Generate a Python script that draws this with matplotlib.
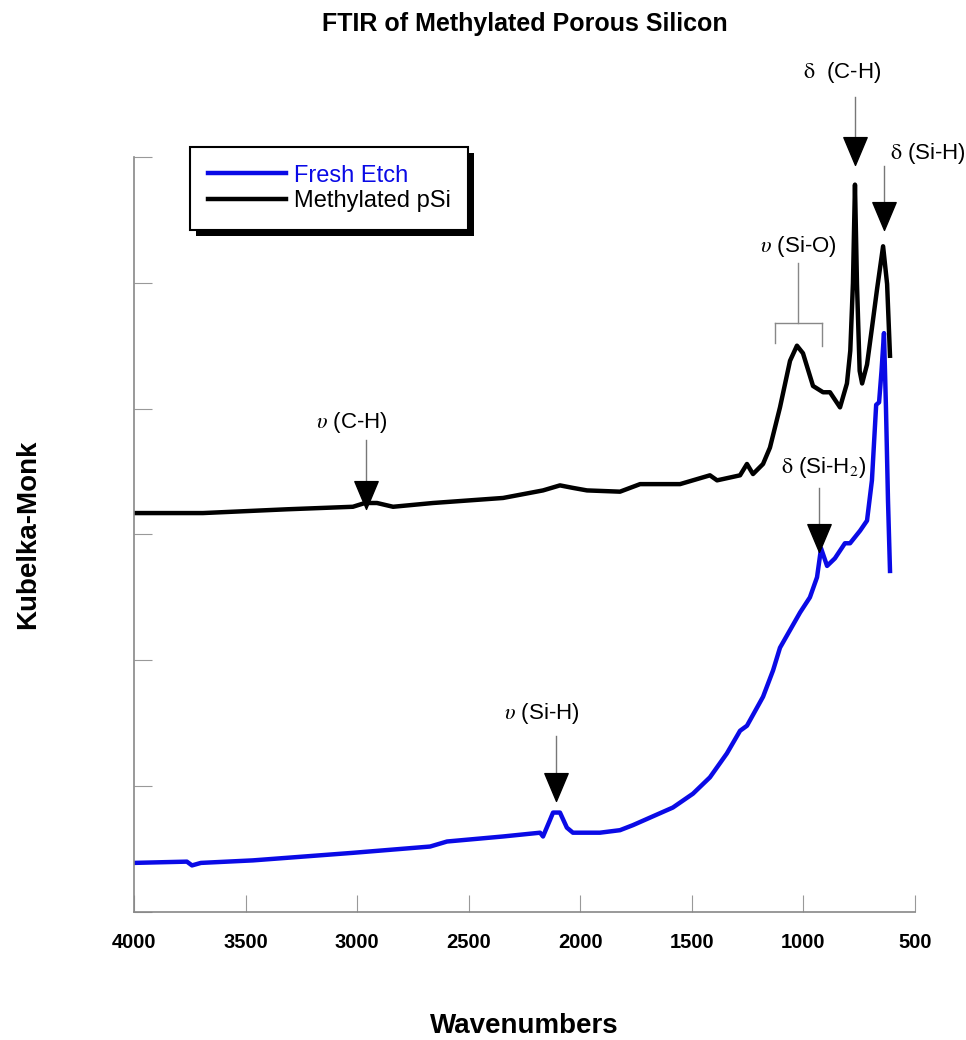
import matplotlib
matplotlib.use('Agg')
import matplotlib.pyplot as plt
from matplotlib.path import Path
from matplotlib.patches import Rectangle
from matplotlib import font_manager

# --- data (wavenumber, Kubelka-Monk in tick units) ---
fresh_wn = [4000, 3763, 3740, 3700, 3467, 3019, 2673, 2597, 2346, 2180, 2167, 2136, 2122,
            2091, 2060, 2033, 1970, 1912, 1822, 1764, 1585, 1495, 1419, 1343, 1284, 1253,
            1181, 1136, 1105, 1060, 1015, 971, 939, 921, 894, 859, 814, 791, 746, 715,
            693, 674, 661, 650, 639, 630, 621, 612]
fresh_km = [0.39, 0.40, 0.37, 0.39, 0.41, 0.47, 0.52, 0.56, 0.60, 0.63, 0.60, 0.73, 0.79,
            0.79, 0.67, 0.63, 0.63, 0.63, 0.65, 0.69, 0.83, 0.94, 1.07, 1.26, 1.44, 1.48,
            1.71, 1.92, 2.10, 2.24, 2.38, 2.50, 2.66, 2.89, 2.75, 2.81, 2.93, 2.93, 3.03,
            3.11, 3.43, 4.03, 4.05, 4.30, 4.60, 4.00, 3.27, 2.71]

meth_wn = [4000, 3691, 3314, 3019, 2965, 2911, 2839, 2660, 2346, 2167, 2091, 2033, 1970,
           1822, 1732, 1553, 1419, 1387, 1284, 1253, 1226, 1181, 1150, 1105, 1060, 1029,
           1002, 957, 912, 881, 836, 805, 790, 778, 769, 760, 748, 737, 715, 693, 670,
           643, 625, 612]
meth_km = [3.17, 3.17, 3.20, 3.22, 3.25, 3.25, 3.22, 3.25, 3.29, 3.35, 3.39, 3.37, 3.35,
           3.34, 3.40, 3.40, 3.47, 3.43, 3.47, 3.56, 3.48, 3.56, 3.69, 4.01, 4.38, 4.50,
           4.44, 4.18, 4.13, 4.13, 4.01, 4.20, 4.46, 5.00, 5.78, 4.99, 4.30, 4.20, 4.35,
           4.64, 4.95, 5.29, 4.99, 4.42]

labels = ['Fresh Etch', 'Methylated pSi']
x_ticks = [4000, 3500, 3000, 2500, 2000, 1500, 1000, 500]

# arrow annotations: label, wavenumber of tip, tip y, line top y, text x, text y
arrows = [
    (r'$\mathrm{\delta}$  (C-H)', 768, 5.97, 6.48, 827, 6.67),
    (r'$\mathrm{\delta}$ (Si-H)', 638, 5.45, 5.93, 444, 6.03),
    (r'$\upsilon$ (C-H)', 2960, 3.23, 3.75, 3023, 3.89),
    (r'$\mathrm{\delta}$ (Si-H$_2$)', 930, 2.89, 3.37, 910, 3.53),
    (r'$\upsilon$ (Si-H)', 2109, 0.91, 1.40, 2171, 1.58),
]
# bracket for Si-O: label, centre, left, right, top of stem, bar y, left foot, right foot, text y
bracket = (r'$\upsilon$ (Si-O)', 1024, 1127, 916, 5.16, 4.68, 4.52, 4.50, 5.29)

names = {f.name for f in font_manager.fontManager.ttflist}
narrow = 'Liberation Sans Narrow' if 'Liberation Sans Narrow' in names else 'Liberation Sans'

plt.rcParams['font.family'] = ['Liberation Sans', 'DejaVu Sans']
plt.rcParams['mathtext.fontset'] = 'stix'

fig = plt.figure(figsize=(9.66, 10.4), dpi=100)
ax = fig.add_axes([0.1387, 0.1231, 0.8085, 0.726])

blue = '#0a0ae6'
ax.plot(fresh_wn, fresh_km, color=blue, lw=3.2, label=labels[0])
ax.plot(meth_wn, meth_km, color='black', lw=3.2, label=labels[1])

ax.set_xlim(4000, 500)
ax.set_ylim(0, 6)
ax.set_xticks(x_ticks)
ax.set_xticklabels([str(t) for t in x_ticks], fontfamily=narrow, fontweight='bold', fontsize=14.5)
ax.set_yticks(range(7))
ax.set_yticklabels([])
ax.tick_params(axis='x', direction='in', length=12, color='#999999', pad=15)
ax.tick_params(axis='y', direction='in', length=13, color='#999999')
for s in ['top', 'right']:
    ax.spines[s].set_visible(False)
for s in ['left', 'bottom']:
    ax.spines[s].set_color('#888888')
    ax.spines[s].set_linewidth(1.2)

ax.set_title('FTIR of Methylated Porous Silicon', fontsize=18, fontweight='bold', pad=91)
ax.set_xlabel('Wavenumbers', fontsize=20, fontweight='bold', labelpad=44)
ax.set_ylabel('Kubelka-Monk', fontsize=20, fontweight='bold', labelpad=63)

# triangle head, taller than wide
tri = Path([(-0.42, 0.5), (0.42, 0.5), (0, -0.5), (-0.42, 0.5)],
           [Path.MOVETO, Path.LINETO, Path.LINETO, Path.CLOSEPOLY])
head_h = 0.16
for text, wn, tip, top, tx, ty in arrows:
    ax.plot([wn, wn], [top, tip + head_h], color='#777777', lw=1, clip_on=False)
    ax.plot(wn, tip + head_h / 2, marker=tri, markersize=20, color='black', clip_on=False)
    ax.text(tx, ty, text, fontsize=16, ha='center', va='center', clip_on=False)

lab, c, xl, xr, stem, bar, fl, fr, ty = bracket
ax.plot([c, c], [stem, bar], color='#888888', lw=1)
ax.plot([xl, xr], [bar, bar], color='#888888', lw=1)
ax.plot([xl, xl], [bar, fl], color='#888888', lw=1)
ax.plot([xr, xr], [bar, fr], color='#888888', lw=1)
ax.text(c, ty, lab, fontsize=16, ha='center', va='center')

leg = ax.legend(loc='upper left', bbox_to_anchor=(0.0717, 1.0132), fontsize=17,
                frameon=True, fancybox=False, edgecolor='black', handlelength=3.3,
                handletextpad=0.35, borderpad=0.75, labelspacing=0.15, borderaxespad=0,
                framealpha=1)
leg.get_frame().set_linewidth(1.5)
leg.get_texts()[0].set_color(blue)
for line in leg.get_lines():
    line.set_linewidth(3.2)

# solid black drop shadow behind the legend box
fig.canvas.draw()
bb = leg.get_window_extent()
inv = ax.transAxes.inverted()
(x0, y0), (x1, y1) = inv.transform([(bb.x0 + 6, bb.y0 - 6), (bb.x1 + 6, bb.y1 - 6)])
shadow = Rectangle((x0, y0), x1 - x0, y1 - y0, transform=ax.transAxes, clip_on=False,
                   facecolor='black', edgecolor='none', zorder=leg.get_zorder() - 0.1)
ax.add_patch(shadow)

fig.savefig('out.png', dpi=100)
